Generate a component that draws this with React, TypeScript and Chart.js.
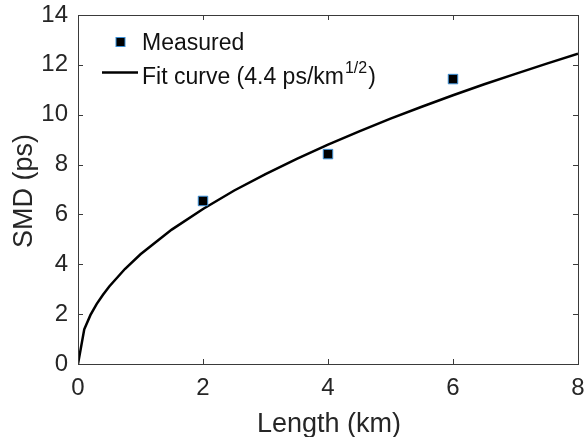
import React, { useEffect, useRef } from "react";
import { Chart, registerables } from "chart.js";

Chart.register(...registerables);

const measuredLength = [2, 4, 6];
const measuredSMD = [6.54, 8.42, 11.43];

const fitLength = [0, 0.1, 0.2, 0.3, 0.4, 0.5, 0.75, 1, 1.5, 2, 2.5, 3, 3.5, 4, 4.5, 5, 5.5, 6, 6.5, 7, 7.5, 8];
const fitSMD = [0, 1.39, 1.97, 2.41, 2.78, 3.11, 3.81, 4.4, 5.39, 6.22, 6.96, 7.62, 8.23, 8.8, 9.33, 9.84, 10.32, 10.78, 11.22, 11.64, 12.05, 12.45];

const xTicks = [0, 2, 4, 6, 8];
const yTicks = [0, 2, 4, 6, 8, 10, 12, 14];

const FONT = "Liberation Sans, Arial, sans-serif";
const TEXT = "#262626";

const decorPlugin = {
  id: "decor",
  afterDraw(chart: any) {
    const { ctx, chartArea, scales } = chart;
    const { left, right, top, bottom } = chartArea;
    ctx.save();
    // frame
    ctx.strokeStyle = "#3a3a3a";
    ctx.lineWidth = 1;
    ctx.strokeRect(Math.round(left) + 0.5, Math.round(top) + 0.5, Math.round(right - left), Math.round(bottom - top));
    // ticks
    const tl = 5;
    ctx.beginPath();
    xTicks.forEach((v) => {
      const x = Math.round(scales.x.getPixelForValue(v)) + 0.5;
      ctx.moveTo(x, bottom);
      ctx.lineTo(x, bottom - tl);
      ctx.moveTo(x, top);
      ctx.lineTo(x, top + tl);
    });
    yTicks.forEach((v) => {
      const y = Math.round(scales.y.getPixelForValue(v)) + 0.5;
      ctx.moveTo(left, y);
      ctx.lineTo(left + tl, y);
      ctx.moveTo(right, y);
      ctx.lineTo(right - tl, y);
    });
    ctx.stroke();

    // axis titles
    ctx.fillStyle = TEXT;
    ctx.font = `27px ${FONT}`;
    ctx.textAlign = "center";
    ctx.textBaseline = "alphabetic";
    ctx.fillText("Length (km)", (left + right) / 2 + 1, 432);
    ctx.save();
    ctx.translate(32, 191);
    ctx.rotate(-Math.PI / 2);
    ctx.fillText("SMD (ps)", 0, 0);
    ctx.restore();

    // legend
    ctx.textAlign = "left";
    ctx.fillStyle = "#000";
    const ms = 9;
    ctx.fillRect(120.5 - ms / 2, 42 - ms / 2, ms, ms);
    ctx.strokeStyle = "#3b8fd6";
    ctx.lineWidth = 1;
    ctx.strokeRect(120.5 - ms / 2, 42 - ms / 2, ms, ms);
    ctx.fillStyle = "#111";
    ctx.font = `23px ${FONT}`;
    ctx.fillText("Measured", 142, 50);

    ctx.strokeStyle = "#000";
    ctx.lineWidth = 2.5;
    ctx.beginPath();
    ctx.moveTo(102, 72.5);
    ctx.lineTo(138, 72.5);
    ctx.stroke();
    const t1 = "Fit curve (4.4 ps/km";
    ctx.font = `23px ${FONT}`;
    ctx.fillText(t1, 142, 84);
    const w1 = ctx.measureText(t1).width;
    ctx.font = `16px ${FONT}`;
    const sup = "1/2";
    ctx.fillText(sup, 142 + w1 + 1, 73);
    const w2 = ctx.measureText(sup).width;
    ctx.font = `23px ${FONT}`;
    ctx.fillText(")", 142 + w1 + 2 + w2, 84);
    ctx.restore();
  },
};

export default function App() {
  const ref = useRef<HTMLCanvasElement>(null);
  useEffect(() => {
    if (!ref.current) return;
    const chart = new Chart(ref.current, {
      type: "scatter",
      data: {
        datasets: [
          {
            label: "Measured",
            data: measuredLength.map((x, i) => ({ x, y: measuredSMD[i] })),
            pointStyle: "rect",
            pointRadius: 6.7,
            backgroundColor: "#000",
            borderColor: "#3b8fd6",
            borderWidth: 1,
            showLine: false,
            order: 0,
          },
          {
            label: "Fit curve",
            data: fitLength.map((x, i) => ({ x, y: fitSMD[i] })),
            showLine: true,
            borderColor: "#000",
            borderWidth: 2.5,
            pointRadius: 0,
            tension: 0,
            fill: false,
            order: 1,
          },
        ],
      },
      options: {
        animation: false,
        responsive: false,
        devicePixelRatio: 1,
        layout: { padding: { top: 15, right: 8, left: 0, bottom: 0 } },
        plugins: { legend: { display: false }, tooltip: { enabled: false } },
        scales: {
          x: {
            type: "linear",
            min: 0,
            max: 8,
            afterFit: (s: any) => {
              s.height = 73;
              s.paddingLeft = 0;
              s.paddingRight = 0;
            },
            afterBuildTicks: (s: any) => {
              s.ticks = xTicks.map((v) => ({ value: v }));
            },
            grid: { display: false, drawTicks: false },
            border: { display: false },
            ticks: { padding: 10, color: TEXT, font: { family: FONT, size: 24 } },
          },
          y: {
            type: "linear",
            min: 0,
            max: 14,
            afterFit: (s: any) => {
              s.width = 78;
              s.paddingTop = 0;
              s.paddingBottom = 0;
            },
            afterBuildTicks: (s: any) => {
              s.ticks = yTicks.map((v) => ({ value: v }));
            },
            grid: { display: false, drawTicks: false },
            border: { display: false },
            ticks: { padding: 10, color: TEXT, font: { family: FONT, size: 24 } },
          },
        },
      },
      plugins: [decorPlugin],
    });
    return () => chart.destroy();
  }, []);
  return (
    <div style={{ position: "absolute", left: 0, top: 0, width: 586, height: 437, background: "#fff" }}>
      <canvas ref={ref} width={586} height={437} style={{ width: 586, height: 437 }} />
    </div>
  );
}
